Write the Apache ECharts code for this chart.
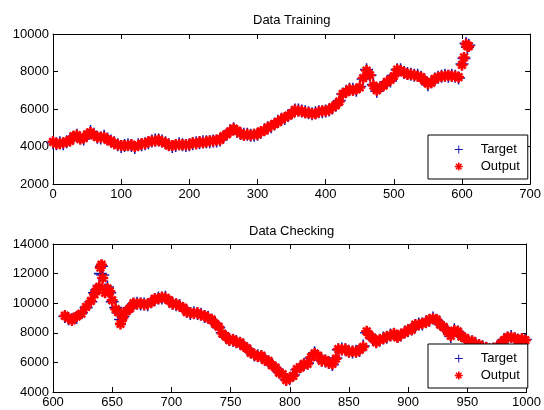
<!DOCTYPE html>
<html>
<head>
<meta charset="utf-8">
<script src="https://cdn.jsdelivr.net/npm/echarts@6/dist/echarts.min.js"></script>
<style>
  html, body { margin: 0; padding: 0; background: #fff; }
  #main { width: 544px; height: 410px; }
</style>
</head>
<body>
<div id="main"></div>
<script>
// training set (index 0..610)
const trainX = [
  0, 5, 10, 15, 20, 25, 30, 35, 40, 45, 50, 55, 60, 65, 70, 75, 80, 85, 90, 95,
  100, 105, 110, 115, 120, 125, 130, 135, 140, 145, 150, 155, 160, 165, 170, 175, 180, 185, 190, 195,
  200, 205, 210, 215, 220, 225, 230, 235, 240, 245, 250, 255, 260, 265, 270, 275, 280, 285, 290, 295,
  300, 305, 310, 315, 320, 325, 330, 335, 340, 345, 350, 355, 360, 365, 370, 375, 380, 385, 390, 395,
  400, 405, 410, 415, 420, 425, 430, 435, 440, 445, 450, 455, 460, 465, 470, 475, 480, 485, 490, 495,
  500, 505, 510, 515, 520, 525, 530, 535, 540, 545, 550, 555, 560, 565, 570, 575, 580, 585, 590, 595,
  600, 603, 606, 608, 610
]
const trainTarget = [
  4200, 4150, 4200, 4150, 4250, 4350, 4500, 4600, 4450, 4400,
  4600, 4800, 4650, 4500, 4450, 4550, 4400, 4300, 4200, 4100,
  4000, 4050, 4100, 4050, 3950, 4100, 4100, 4150, 4200, 4300,
  4350, 4350, 4300, 4200, 4100, 4000, 4050, 4150, 4100, 4050,
  4100, 4150, 4200, 4200, 4250, 4250, 4250, 4300, 4300, 4350,
  4500, 4650, 4850, 4950, 4800, 4700, 4650, 4650, 4600, 4600,
  4650, 4750, 4900, 5000, 5050, 5200, 5350, 5450, 5500, 5650,
  5800, 5950, 5950, 5900, 5850, 5800, 5750, 5800, 5850, 5850,
  5900, 5950, 6050, 6200, 6450, 6800, 6950, 7050, 7050, 7000,
  7200, 7600, 8100, 7800, 7300, 6950, 7150, 7300, 7450, 7500,
  7800, 8100, 8100, 7950, 7900, 7850, 7800, 7800, 7700, 7550,
  7300, 7450, 7600, 7700, 7750, 7800, 7750, 7800, 7750, 7650,
  8400, 8700, 9500, 9300, 9400
]
const trainOutput = [
  4250, 4150, 4150, 4200, 4250, 4300, 4550, 4600, 4400, 4450,
  4650, 4750, 4600, 4500, 4500, 4500, 4350, 4300, 4150, 4100,
  4050, 4050, 4050, 4100, 4000, 4050, 4150, 4150, 4250, 4300,
  4300, 4350, 4250, 4200, 4050, 4050, 4100, 4100, 4100, 4100,
  4100, 4200, 4150, 4250, 4200, 4250, 4300, 4300, 4350, 4350,
  4550, 4650, 4800, 4950, 4850, 4700, 4600, 4650, 4600, 4650,
  4650, 4800, 4850, 5000, 5100, 5200, 5300, 5450, 5550, 5650,
  5750, 5950, 5900, 5900, 5800, 5800, 5750, 5750, 5850, 5900,
  5900, 5950, 6100, 6200, 6400, 6800, 6900, 7050, 7000, 7050,
  7150, 7650, 8050, 7800, 7250, 7000, 7150, 7250, 7450, 7550,
  7750, 8100, 8050, 7950, 7850, 7850, 7800, 7750, 7700, 7500,
  7350, 7400, 7600, 7700, 7750, 7750, 7800, 7750, 7750, 7700,
  8350, 8750, 9450, 9350, 9350
]

// checking set (index 610..1000)
const checkX = [
  610, 613, 616, 620, 624, 628, 632, 635, 637, 639,
  640, 641, 642, 644, 646, 648, 650, 653, 655, 657,
  659, 662, 665, 668, 671, 674, 677, 680, 683, 686,
  689, 692, 695, 698, 701, 704, 707, 710, 713, 716,
  719, 722, 725, 728, 731, 734, 737, 740, 743, 746,
  749, 752, 755, 758, 761, 764, 767, 770, 773, 776,
  779, 782, 785, 788, 791, 794, 797, 800, 803, 806,
  809, 812, 815, 818, 821, 824, 827, 830, 833, 836,
  839, 841, 844, 847, 850, 853, 856, 859, 862, 865,
  867, 870, 873, 876, 879, 882, 885, 888, 891, 894,
  897, 900, 903, 906, 909, 912, 915, 918, 921, 924,
  927, 930, 933, 936, 939, 942, 945, 948, 951, 954,
  957, 960, 963, 966, 969, 972, 975, 978, 981, 984,
  987, 990, 993, 996, 999
]
const checkTarget = [
  9100, 8950, 8900, 9050, 9350, 9700, 10100, 10700, 10900, 11200,
  12000, 12500, 11900, 10900, 11100, 10700, 10100, 9700, 9350, 8900,
  9100, 9400, 9700, 9950, 10000, 9950, 9950, 9900, 10100, 10250,
  10350, 10350, 10400, 10150, 10000, 9900, 9850, 9650, 9450, 9300,
  9350, 9300, 9250, 9100, 9050, 8850, 8650, 8350, 8000, 7700,
  7550, 7500, 7400, 7300, 7150, 6900, 6700, 6500, 6450, 6400,
  6200, 6050, 5850, 5600, 5350, 5150, 4850, 4900, 5150, 5500,
  5700, 5850, 5950, 6300, 6650, 6400, 6150, 6100, 6000, 5850,
  6300, 6850, 6900, 6850, 6750, 6700, 6750, 6800, 7100, 8000,
  7900, 7600, 7400, 7500, 7650, 7700, 7850, 7900, 7750, 7850,
  8050, 8150, 8250, 8500, 8600, 8600, 8750, 8850, 9000, 8850,
  8600, 8350, 8150, 7750, 8200, 8050, 7800, 7600, 7450, 7400,
  7250, 7150, 7050, 6950, 6850, 6900, 7000, 7200, 7550, 7650,
  7750, 7600, 7500, 7550, 7550
]
const checkOutput = [
  9150, 9000, 8850, 9100, 9300, 9750, 10150, 10600, 10950, 11100,
  12400, 12600, 11700, 10700, 11000, 10800, 10200, 9600, 9400, 8600,
  9000, 9450, 9650, 10000, 9950, 10000, 9900, 9950, 10050, 10300,
  10300, 10400, 10350, 10200, 9950, 9950, 9800, 9700, 9400, 9350,
  9300, 9350, 9200, 9150, 9000, 8900, 8600, 8400, 7950, 7750,
  7500, 7550, 7350, 7350, 7100, 6950, 6650, 6550, 6400, 6450,
  6150, 6100, 5800, 5650, 5300, 5200, 4800, 4950, 5100, 5550,
  5650, 5900, 5900, 6350, 6600, 6450, 6100, 6150, 5950, 5900,
  6250, 6900, 6850, 6900, 6700, 6750, 6700, 6850, 7050, 8100,
  7850, 7650, 7350, 7550, 7600, 7750, 7800, 7950, 7700, 7900,
  8000, 8200, 8200, 8550, 8550, 8650, 8700, 8900, 8950, 8900,
  8550, 8400, 8100, 7800, 8150, 8100, 7750, 7650, 7400, 7450,
  7200, 7200, 7000, 7000, 6800, 6950, 6950, 7250, 7500, 7700,
  7700, 7650, 7450, 7600, 7500
]

// axis ranges: [min, max, step]
const trainXAxis = [0, 700, 100]
const trainYAxis = [2000, 10000, 2000]
const checkXAxis = [600, 1000, 50]
const checkYAxis = [4000, 14000, 2000]
const titles = ['Data Training', 'Data Checking']
const seriesNames = ['Target', 'Output']

const FONT = 'Liberation Sans, Arial, Helvetica, sans-serif'
const BLUE = '#1414b4'
const RED = '#ff0000'
const plusPath = 'path://M0 4.4H10V5.6H0ZM4.4 0H5.6V10H4.4Z'
const starPath = 'path://M5 0L5 10M0 5L10 5M1.6 1.6L8.4 8.4M8.4 1.6L1.6 8.4'

const pairs = (xs, ys) => xs.map((x, i) => [x, ys[i]])
const plain = v => String(v)

const grids = [
  { left: 53, right: 11, top: 34, height: 150 },
  { left: 53, right: 11, top: 244, height: 148 }
]

const makeX = (g, r, pos) => ({
  type: 'value', gridIndex: g, position: pos, min: r[0], max: r[1], interval: r[2],
  axisLine: { show: true, onZero: false, lineStyle: { color: '#000', width: 1 } },
  axisTick: { show: true, inside: true, length: 5, lineStyle: { color: '#000' } },
  axisLabel: { show: pos === 'bottom', color: '#000', fontSize: 13, fontFamily: FONT, margin: 4, formatter: plain },
  splitLine: { show: false }
})
const makeY = (g, r, pos) => ({
  type: 'value', gridIndex: g, position: pos, min: r[0], max: r[1], interval: r[2],
  axisLine: { show: true, onZero: false, lineStyle: { color: '#000', width: 1 } },
  axisTick: { show: true, inside: true, length: 5, lineStyle: { color: '#000' } },
  axisLabel: { show: pos === 'left', color: '#000', fontSize: 13, fontFamily: FONT, margin: 4, formatter: plain },
  splitLine: { show: false }
})

const makeLegend = (top) => ({
  orient: 'vertical',
  left: 428,
  top: top,
  padding: [8, 8, 6, 26],
  itemGap: 4,
  itemWidth: 8,
  itemHeight: 8,
  backgroundColor: '#fff',
  borderColor: '#000',
  borderWidth: 1,
  borderRadius: 0,
  selectedMode: false,
  textStyle: { color: '#000', fontSize: 13, fontFamily: FONT, padding: [0, 0, 0, 13] },
  data: [
    { name: seriesNames[0], icon: plusPath, itemStyle: { color: BLUE, borderWidth: 0 } },
    { name: seriesNames[1], icon: starPath, itemStyle: { color: RED, borderColor: RED, borderWidth: 1.5 } }
  ]
})

const makeSeries = (name, xi, data, isTarget) => ({
  name: name,
  type: 'scatter',
  xAxisIndex: xi,
  yAxisIndex: xi,
  clip: false,
  symbol: isTarget ? plusPath : starPath,
  symbolSize: isTarget ? 13 : 11,
  itemStyle: isTarget
    ? { color: BLUE, borderWidth: 0, opacity: 1 }
    : { color: RED, borderColor: RED, borderWidth: 2.6, opacity: 1 },
  data: data,
  z: isTarget ? 2 : 3
})

const option = {
  animation: false,
  backgroundColor: '#fff',
  title: [
    { text: titles[0], left: 253, top: 14, padding: 0, textStyle: { fontSize: 13, fontWeight: 'normal', color: '#000', fontFamily: FONT } },
    { text: titles[1], left: 249, top: 225, padding: 0, textStyle: { fontSize: 13, fontWeight: 'normal', color: '#000', fontFamily: FONT } }
  ],
  legend: [makeLegend(135), makeLegend(344)],
  grid: grids,
  xAxis: [
    makeX(0, trainXAxis, 'bottom'), makeX(0, trainXAxis, 'top'),
    makeX(1, checkXAxis, 'bottom'), makeX(1, checkXAxis, 'top')
  ],
  yAxis: [
    makeY(0, trainYAxis, 'left'), makeY(0, trainYAxis, 'right'),
    makeY(1, checkYAxis, 'left'), makeY(1, checkYAxis, 'right')
  ],
  series: [
    makeSeries(seriesNames[0], 0, pairs(trainX, trainTarget), true),
    makeSeries(seriesNames[1], 0, pairs(trainX, trainOutput), false),
    makeSeries(seriesNames[0], 2, pairs(checkX, checkTarget), true),
    makeSeries(seriesNames[1], 2, pairs(checkX, checkOutput), false)
  ]
}

const myChart = echarts.init(document.getElementById('main'))
myChart.setOption(option)
</script>
</body>
</html>
